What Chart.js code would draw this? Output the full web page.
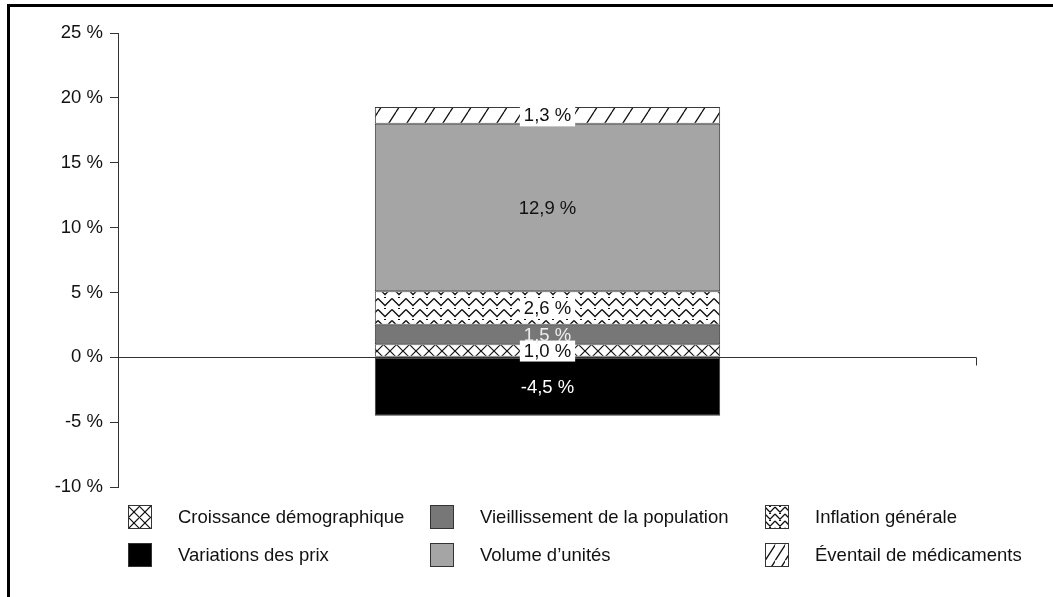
<!DOCTYPE html>
<html>
<head>
<meta charset="utf-8">
<script src="https://cdn.jsdelivr.net/npm/chart.js@4.4.0/dist/chart.umd.min.js"></script>
<style>
  body { margin: 0; background: #fff; }
  canvas { display: block; }
</style>
</head>
<body>
<canvas id="graphique" width="1053" height="597"></canvas>
<script>
// données
const categories = [''];
const nomsSeries = ['Croissance démographique', 'Vieillissement de la population', 'Inflation générale',
  'Variations des prix', "Volume d\u2019unités", 'Éventail de médicaments'];
const valeursSeries = [1.0, 1.5, 2.6, -4.5, 12.9, 1.3];
const ticksY = [-10, -5, 0, 5, 10, 15, 20, 25];

// motifs (k = échelle du motif)
function motif(type, k) {
  const c = document.createElement('canvas');
  const ctx = c.getContext('2d');
  if (type == 'croix') {
    const s = 13 * k;
    c.width = s; c.height = s;
    ctx.fillStyle = '#fff'; ctx.fillRect(0, 0, s, s);
    ctx.strokeStyle = '#111'; ctx.lineWidth = 1.2;
    ctx.beginPath();
    ctx.moveTo(0, 0); ctx.lineTo(s, s);
    ctx.moveTo(s, 0); ctx.lineTo(0, s);
    ctx.stroke();
  } else if (type == 'zigzag') {
    const w = 14 * k, h = 11 * k;
    c.width = w; c.height = h;
    ctx.fillStyle = '#fff'; ctx.fillRect(0, 0, w, h);
    ctx.strokeStyle = '#111'; ctx.lineWidth = 1.3;
    ctx.beginPath();
    ctx.moveTo(0, 1.5 * k); ctx.lineTo(w / 2, 8.5 * k); ctx.lineTo(w, 1.5 * k);
    ctx.stroke();
    ctx.fillStyle = '#111';
    ctx.fillRect(w / 2 - 1, 0, 2, 1);
  } else if (type == 'diag') {
    const w = 18 * k, h = 28 * k;
    c.width = w; c.height = h;
    ctx.fillStyle = '#fff'; ctx.fillRect(0, 0, w, h);
    ctx.strokeStyle = '#111'; ctx.lineWidth = 1.3;
    ctx.beginPath();
    for (let j = -1; j <= 1; j++) {
      ctx.moveTo(j * w, h); ctx.lineTo(j * w + w, 0);
    }
    ctx.stroke();
  }
  return ctx.createPattern(c, 'repeat');
}

const remplissages = [motif('croix', 1), '#777777', motif('zigzag', 1), '#000000', '#a5a5a5', motif('diag', 1)];
const remplissagesLegende = [motif('croix', 0.92), '#777777', motif('zigzag', 0.72), '#000000', '#a5a5a5', motif('diag', 0.6)];
const couleursTexte = ['#111', '#eee', '#111', '#fff', '#111', '#111'];
const boitesBlanches = [true, false, true, false, false, true];

function formatPct(v) {
  return v.toFixed(1).replace('.', ',') + ' %';
}

const datasets = nomsSeries.map((nom, i) => ({
  label: nom,
  data: [valeursSeries[i]],
  backgroundColor: remplissages[i],
  borderColor: '#3a3a3a',
  borderWidth: 1,
  borderSkipped: false,
  categoryPercentage: 1,
  barPercentage: 0.402,
}));

const police = '"Liberation Sans", Arial, sans-serif';

const pluginDessin = {
  id: 'dessin',
  beforeDraw(chart) {
    const ctx = chart.ctx;
    ctx.save();
    ctx.fillStyle = '#fff';
    ctx.fillRect(0, 0, chart.width, chart.height);
    // cadre
    ctx.strokeStyle = '#000';
    ctx.lineWidth = 3;
    ctx.beginPath();
    ctx.moveTo(8.5, chart.height);
    ctx.lineTo(8.5, 5.5);
    ctx.lineTo(chart.width, 5.5);
    ctx.stroke();
    ctx.restore();
  },
  beforeDatasetsDraw(chart) {
    const ctx = chart.ctx;
    const a = chart.chartArea;
    const y0 = Math.round(chart.scales.y.getPixelForValue(0)) + 0.5;
    ctx.save();
    ctx.strokeStyle = '#333';
    ctx.lineWidth = 1;
    ctx.beginPath();
    ctx.moveTo(a.left, y0);
    ctx.lineTo(a.right - 0.5, y0);
    ctx.lineTo(a.right - 0.5, y0 + 8);
    ctx.stroke();
    ctx.restore();
  },
  afterDatasetsDraw(chart) {
    const ctx = chart.ctx;
    ctx.save();
    ctx.font = '18.5px ' + police;
    ctx.textAlign = 'center';
    ctx.textBaseline = 'middle';
    chart.data.datasets.forEach((ds, i) => {
      const el = chart.getDatasetMeta(i).data[0];
      const p = el.getProps(['x', 'y', 'base'], true);
      const cy = (p.y + p.base) / 2;
      const txt = formatPct(ds.data[0]);
      const w = ctx.measureText(txt).width;
      if (boitesBlanches[i]) {
        ctx.fillStyle = '#fff';
        ctx.fillRect(p.x - w / 2 - 4, cy - 10, w + 8, 21);
      }
      ctx.fillStyle = couleursTexte[i];
      ctx.fillText(txt, p.x, cy + 1);
    });
    ctx.restore();
  },
  afterDraw(chart) {
    // légende en grille
    const ctx = chart.ctx;
    const colsX = [128, 430, 765];
    const rowsY = [505, 543];
    ctx.save();
    ctx.font = '18.5px ' + police;
    ctx.textBaseline = 'middle';
    nomsSeries.forEach((nom, i) => {
      const x = colsX[i % 3];
      const y = rowsY[Math.floor(i / 3)];
      const f = remplissagesLegende[i];
      if (typeof f != 'string') f.setTransform(new DOMMatrix().translate(x, y + 1));
      ctx.fillStyle = f;
      ctx.fillRect(x, y, 24, 24);
      ctx.strokeStyle = '#333';
      ctx.lineWidth = 1;
      ctx.strokeRect(x + 0.5, y + 0.5, 23, 23);
      ctx.fillStyle = '#111';
      ctx.fillText(nom, x + 50, y + 13);
    });
    ctx.restore();
  }
};

new Chart(document.getElementById('graphique'), {
  type: 'bar',
  data: { labels: categories, datasets: datasets },
  options: {
    responsive: false,
    animation: false,
    devicePixelRatio: 1,
    layout: { padding: { left: 0, top: 33, right: 76, bottom: 110 } },
    plugins: { legend: { display: false }, tooltip: { enabled: false } },
    scales: {
      x: { stacked: true, display: false },
      y: {
        stacked: true,
        min: ticksY[0],
        max: ticksY[ticksY.length - 1],
        afterFit(scale) { scale.width = 118; },
        afterBuildTicks(scale) { scale.ticks = ticksY.map(v => ({ value: v })); },
        border: { display: true, color: '#333', width: 1 },
        grid: { drawOnChartArea: false, tickLength: 8, color: '#333' },
        ticks: {
          padding: 7,
          color: '#111',
          font: { family: police, size: 18.5 },
          callback: v => v + ' %'
        }
      }
    }
  },
  plugins: [pluginDessin]
});
</script>
</body>
</html>
